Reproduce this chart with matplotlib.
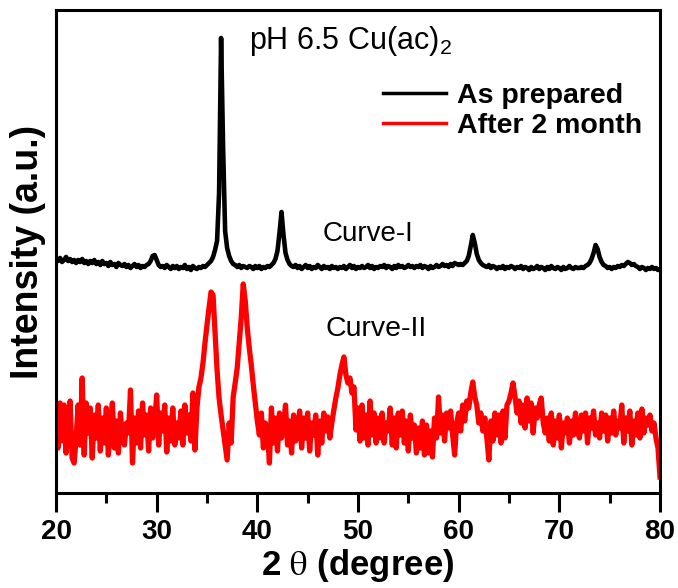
import numpy as np
import matplotlib
matplotlib.use("Agg")
import matplotlib.pyplot as plt
from matplotlib import font_manager as fm

# 2-theta sampling grid (degrees)
two_theta = np.round(np.arange(20.0, 80.001, 0.2), 1)

# Curve-I : as prepared (arbitrary intensity units)
as_prepared = [
    234,232,235,231,233,236,232,234,231,233,230,233,231,234,230,232,229,232,230,233,
    229,231,228,232,229,230,227,231,228,229,226,230,228,227,229,226,228,225,227,229,
    226,228,225,227,226,228,229,232,237,238,233,228,226,227,225,228,226,224,227,225,
    227,224,226,225,228,224,226,223,227,225,224,226,225,227,226,228,230,232,236,243,
    252,300,455,345,262,245,237,232,229,228,226,228,225,227,226,225,227,226,224,227,
    225,227,224,226,225,227,226,228,230,234,242,260,281,258,240,233,229,227,226,228,
    225,227,224,226,228,225,227,224,226,225,228,226,224,227,225,226,224,227,225,226,
    224,226,225,227,224,226,228,225,227,224,226,225,227,225,226,228,225,227,224,226,
    225,227,226,228,225,227,226,224,227,225,228,226,227,225,226,228,226,227,225,227,
    226,228,225,227,226,224,227,225,226,228,226,227,229,227,228,226,229,227,230,229,
    228,229,228,230,232,237,247,258,250,239,233,230,228,227,226,228,225,227,226,224,
    226,225,227,224,226,225,227,226,224,226,225,227,224,226,225,223,226,224,225,227,
    224,226,225,223,226,224,227,225,224,226,225,223,226,224,225,227,225,224,226,225,
    225,226,225,227,228,230,234,240,248,244,236,231,228,227,225,226,224,226,225,227,
    226,228,227,229,231,230,228,229,227,226,224,226,225,223,225,224,226,224,225,223,
    224,
]

# Curve-II : after 2 months
after_2_month = [
    85,45,90,52,88,40,70,92,35,30,55,88,48,115,38,90,60,85,35,78,
    55,88,42,75,50,85,38,68,90,45,72,40,80,55,48,70,60,103,30,75,
    50,82,45,90,58,78,42,85,55,70,98,48,80,62,88,41,75,52,85,48,
    70,55,82,48,88,60,78,52,100,43,85,106,115,130,150,168,185,201,198,160,
    123,95,78,63,48,33,70,50,96,110,125,150,175,209,192,165,145,128,108,90,
    72,58,80,45,70,62,30,85,50,75,42,80,55,68,88,48,72,40,78,52,
    60,82,45,75,55,80,42,70,58,78,38,72,50,80,62,76,55,70,83,95,
    105,118,128,136,118,110,115,100,106,63,85,52,88,55,78,48,92,58,80,50,
    75,55,80,50,70,62,85,48,75,45,80,58,82,50,72,42,78,55,68,40,
    65,45,72,38,68,40,62,36,75,55,96,60,78,52,80,65,82,58,38,70,
    80,62,88,72,92,85,100,111,96,88,70,80,62,75,55,33,72,52,80,58,
    78,50,82,55,88,92,100,110,96,80,92,70,88,65,95,72,90,60,85,75,
    88,95,70,60,75,52,80,48,72,55,78,45,70,60,75,50,72,58,80,62,
    55,78,62,80,50,75,65,82,58,70,55,80,62,78,52,75,60,82,58,72,
    65,88,50,75,62,82,48,72,58,80,55,84,60,75,68,78,62,70,55,45,
    16,
]

series_labels = ["As prepared", "After 2 month"]
series_colors = ["#000000", "#ff0000"]
x_ticks = [20, 30, 40, 50, 60, 70, 80]

plt.rcParams['font.family'] = ['Liberation Sans', 'DejaVu Sans']
plt.rcParams['mathtext.fontset'] = 'custom'
plt.rcParams['mathtext.rm'] = 'Liberation Sans'
plt.rcParams['mathtext.it'] = 'Liberation Sans:italic'
plt.rcParams['mathtext.bf'] = 'Liberation Sans:bold'

fig = plt.figure(figsize=(6.78, 5.88), dpi=100)
ax = fig.add_axes([56/678, 1-493/588, (660-56)/678, (493-10)/588])

ax.plot(two_theta, as_prepared, color=series_colors[0], lw=3.3, label=series_labels[0], solid_joinstyle='round')
ax.plot(two_theta, after_2_month, color=series_colors[1], lw=3.8, label=series_labels[1], solid_joinstyle='round')

ax.set_xlim(20, 80)
ax.set_ylim(0, 483)
ax.set_xticks(x_ticks)
ax.set_xticks(np.arange(25, 80, 10), minor=True)
ax.set_yticks([])
for s in ax.spines.values():
    s.set_linewidth(2.2)
ax.tick_params(axis='x', which='major', length=14, width=2.2, direction='out', pad=5)
ax.tick_params(axis='x', which='minor', length=7, width=2.2, direction='out')
for lab in ax.get_xticklabels():
    lab.set_fontweight('bold')
    lab.set_fontsize(20)
    lab.set_fontstretch('condensed')

ax.set_xlabel(r'2 $\mathrm{\theta}$ (degree)', fontsize=25, fontweight='bold',
              labelpad=1, math_fontfamily='stix')
ax.set_ylabel('Intensity (a.u.)', fontsize=27, fontweight='bold', labelpad=7)

ax.text(0.319, 0.935, r'pH 6.5 Cu(ac)$_2$', transform=ax.transAxes, fontsize=22, ha='left', va='center')
ax.text(0.442, 0.537, 'Curve-I', transform=ax.transAxes, fontsize=20, ha='left', va='center')
ax.text(0.447, 0.34, 'Curve-II', transform=ax.transAxes, fontsize=20.5, ha='left', va='center')

leg = ax.legend(loc='upper left', bbox_to_anchor=(0.523, 0.872), frameon=False,
                prop={'weight': 'bold', 'size': 20.5}, handlelength=2.2,
                handletextpad=0.4, labelspacing=0.12, borderaxespad=0)
for h in leg.get_lines():
    h.set_linewidth(2.5)

fig.savefig('out.png', dpi=100)
